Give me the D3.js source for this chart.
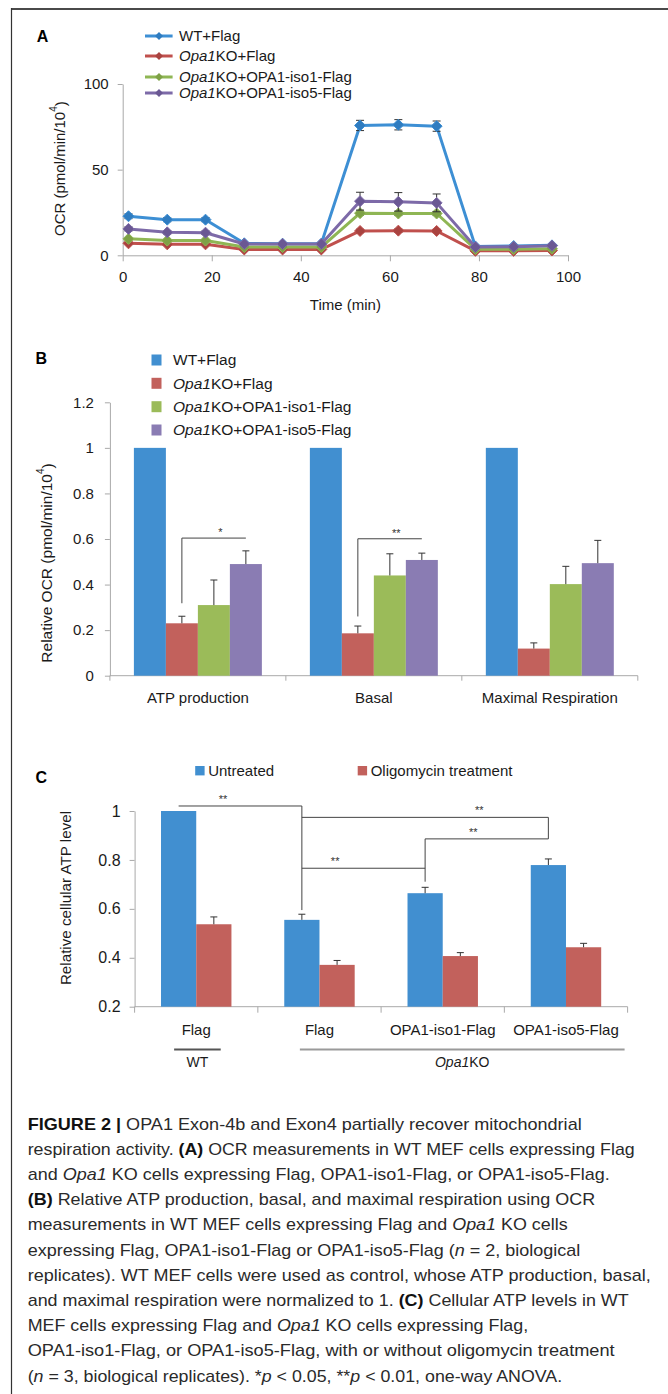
<!DOCTYPE html>
<html><head><meta charset="utf-8">
<script src="https://cdn.jsdelivr.net/npm/d3@7"></script>
<style>
body{margin:0;background:#fff}
svg{display:block}
text{font-family:"Liberation Sans",Arial,Helvetica,sans-serif;fill:#1a1a1a}
</style>
</head><body>
<svg id="fig" width="668" height="1394"></svg>
<script>
// ---------------- DATA ----------------
// Panel A: OCR time course
const timeA = [1.3, 10, 18.6, 27.3, 35.9, 44.6, 53.3, 61.9, 70.5, 79.2, 87.8, 96.4];
const seriesA = ["WT+Flag", "Opa1KO+Flag", "Opa1KO+OPA1-iso1-Flag", "Opa1KO+OPA1-iso5-Flag"];
const ocrWT   = [22.8, 20.8, 20.8, 7.0, 6.8, 6.8, 75.8, 76.2, 75.4, 5.2, 5.4, 5.8];
const ocrKO   = [7.0, 6.4, 6.4, 3.4, 3.4, 3.4, 14.2, 14.4, 14.2, 2.6, 2.6, 2.8];
const ocrIso1 = [9.6, 8.6, 8.6, 4.8, 4.8, 4.8, 24.6, 24.4, 24.4, 3.6, 3.6, 3.8];
const ocrIso5 = [15.4, 13.4, 13.2, 6.6, 6.6, 6.6, 31.6, 31.2, 30.6, 4.8, 5.0, 5.6];
const errWT   = [1.4, 1.2, 1.2, 0.8, 0.8, 0.8, 3.0, 3.0, 3.0, 0.5, 0.5, 0.5];
const errKO   = [0.6, 0.5, 0.5, 0.4, 0.4, 0.4, 1.0, 1.0, 1.0, 0.3, 0.3, 0.3];
const errIso1 = [0.8, 0.6, 0.6, 0.4, 0.4, 0.4, 1.2, 1.2, 1.2, 0.3, 0.3, 0.3];
const errIso5 = [1.2, 1.0, 1.0, 0.6, 0.6, 0.6, 5.2, 5.4, 5.2, 0.4, 0.4, 0.4];
const ticksAx = [0, 20, 40, 60, 80, 100];
const ticksAy = [0, 50, 100];

// Panel B: relative OCR
const catsB = ["ATP production", "Basal", "Maximal Respiration"];
const relWT   = [1, 1, 1];
const relKO   = [0.23, 0.186, 0.119];
const relIso1 = [0.31, 0.44, 0.402];
const relIso5 = [0.49, 0.508, 0.494];
const errRelKO   = [0.031, 0.032, 0.025];
const errRelIso1 = [0.11, 0.095, 0.078];
const errRelIso5 = [0.058, 0.03, 0.1];
const ticksBy = [0, 0.2, 0.4, 0.6, 0.8, 1, 1.2];
// significance: group index, from series, to series, bracket level, left drop level, label
const sigB = [
  {group: 0, from: 1, to: 3, level: 0.604, drop: 0.318, label: "*"},
  {group: 1, from: 1, to: 3, level: 0.601, drop: 0.26, label: "**"}
];

// Panel C: relative cellular ATP
const catsC = ["Flag", "Flag", "OPA1-iso1-Flag", "OPA1-iso5-Flag"];
const seriesC = ["Untreated", "Oligomycin treatment"];
const atpUntreated = [1.0, 0.555, 0.664, 0.779];
const atpOligo     = [0.537, 0.371, 0.407, 0.443];
const errUntreated = [0, 0.023, 0.024, 0.025];
const errOligo     = [0.03, 0.018, 0.014, 0.016];
const ticksCy = [0.2, 0.4, 0.6, 0.8, 1];
// brackets between untreated bars: from group, to group, level, drops, star fraction
const sigC = [
  {from: 0, to: 1, level: 1.0205, dropL: null,  dropR: 0.595, frac: 0.36, label: "**"},
  {from: 1, to: 3, level: 0.974,  dropL: null,  dropR: 0.886, frac: 0.72, label: "**"},
  {from: 2, to: 3, level: 0.886,  dropL: 0.711, dropR: null,  frac: 0.39, label: "**"},
  {from: 1, to: 2, level: 0.766,  dropL: null,  dropR: null,  frac: 0.27, label: "**"}
];
const groupsC = [{label: "WT", from: 0, to: 0, italic: false}, {label: "Opa1KO", from: 1, to: 3, italic: true}];

// Caption
const caption = [
  [["FIGURE 2 | ", "b"], ["OPA1 Exon-4b and Exon4 partially recover mitochondrial", ""]],
  [["respiration activity. ", ""], ["(A)", "b"], [" OCR measurements in WT MEF cells expressing Flag", ""]],
  [["and ", ""], ["Opa1", "i"], [" KO cells expressing Flag, OPA1-iso1-Flag, or OPA1-iso5-Flag.", ""]],
  [["(B)", "b"], [" Relative ATP production, basal, and maximal respiration using OCR", ""]],
  [["measurements in WT MEF cells expressing Flag and ", ""], ["Opa1", "i"], [" KO cells", ""]],
  [["expressing Flag, OPA1-iso1-Flag or OPA1-iso5-Flag (", ""], ["n", "i"], [" = 2, biological", ""]],
  [["replicates). WT MEF cells were used as control, whose ATP production, basal,", ""]],
  [["and maximal respiration were normalized to 1. ", ""], ["(C)", "b"], [" Cellular ATP levels in WT", ""]],
  [["MEF cells expressing Flag and ", ""], ["Opa1", "i"], [" KO cells expressing Flag,", ""]],
  [["OPA1-iso1-Flag, or OPA1-iso5-Flag, with or without oligomycin treatment", ""]],
  [["(", ""], ["n", "i"], [" = 3, biological replicates). *", ""], ["p", "i"], [" < 0.05, **", ""], ["p", "i"], [" < 0.01, one-way ANOVA.", ""]]
];

// ---------------- DRAWING ----------------
const svg = d3.select("#fig");
const AXIS = "#a9a9a9";
const colA = ["#3d8fd4", "#c0504d", "#8fb654", "#7d6aa8"];
const colAdark = ["#2f7cc0", "#a94340", "#7ea146", "#6a5893"];
const colB = ["#418fd0", "#c2615c", "#9bbb59", "#8a7cb3"];
const colC = ["#418fd0", "#c2615c"];

// frame
svg.append("line").attr("x1", 11).attr("x2", 668).attr("y1", 9).attr("y2", 9).attr("stroke", "#4a4a4a").attr("stroke-width", 2);
svg.append("line").attr("x1", 11.5).attr("x2", 11.5).attr("y1", 8).attr("y2", 1394).attr("stroke", "#333").attr("stroke-width", 1.2);

function panelLabel(t, x, y) {
  svg.append("text").attr("x", x).attr("y", y).attr("text-anchor", "middle")
    .attr("font-size", 16).attr("font-weight", "bold").style("fill", "#000").text(t);
}
function richLabel(g, label, x, y, size) {
  const t = g.append("text").attr("x", x).attr("y", y).attr("font-size", size).attr("dy", "0.35em");
  if (label.startsWith("Opa1")) {
    t.append("tspan").attr("font-style", "italic").text("Opa1");
    t.append("tspan").text(label.slice(4));
  } else t.text(label);
  return t;
}
function styleAxis(g) {
  g.selectAll(".domain").attr("stroke", AXIS);
  g.selectAll(".tick line").attr("stroke", AXIS);
  g.selectAll("text").attr("font-size", 15).style("fill", "#1a1a1a").attr("font-family", null);
}

// ===== Panel A =====
panelLabel("A", 42.6, 42);
const xA = d3.scaleLinear().domain([0, 100]).range([122.7, 568]);
const yA = d3.scaleLinear().domain([0, 100]).range([255.3, 84]);
const gA = svg.append("g");
gA.append("g").attr("transform", `translate(0,${yA(0)})`)
  .call(d3.axisBottom(xA).tickValues(ticksAx).tickSize(6).tickSizeOuter(0))
  .call(styleAxis).call(g => g.selectAll("text").attr("y", 27).attr("dy", 0));
gA.append("g").attr("transform", `translate(${xA(0)},0)`)
  .call(d3.axisLeft(yA).tickValues(ticksAy).tickSize(5).tickSizeOuter(0).tickPadding(9))
  .call(styleAxis);
gA.append("text").attr("x", (xA(0) + xA(100)) / 2).attr("y", 310).attr("text-anchor", "middle").attr("font-size", 15).text("Time (min)");
const yTitleA = gA.append("text").attr("transform", `translate(60,${(yA(0) + yA(100)) / 2 - 1}) rotate(-90)`)
  .attr("text-anchor", "middle").attr("font-size", 15).attr("dy", "0.35em");
yTitleA.append("tspan").text("OCR (pmol/min/10");
yTitleA.append("tspan").attr("font-size", 10).attr("dy", "-0.8em").text("4");
yTitleA.append("tspan").attr("dy", "0.55em").text(")");

const valsA = [ocrWT, ocrKO, ocrIso1, ocrIso5];
const errsA = [errWT, errKO, errIso1, errIso5];
const diamond = r => `M0,${-r}L${r},0L0,${r}L${-r},0Z`;
const lineA = d3.line().x((d, i) => xA(timeA[i])).y(d => yA(d));
valsA.forEach((vals, s) => {
  const g = gA.append("g");
  g.append("path").datum(vals).attr("d", lineA).attr("fill", "none").attr("stroke", colA[s]).attr("stroke-width", 3).attr("stroke-linejoin", "round");
  vals.forEach((v, i) => {
    const e = errsA[s][i], x = xA(timeA[i]);
    if (e > 0.9) {
      g.append("line").attr("x1", x).attr("x2", x).attr("y1", yA(v - e)).attr("y2", yA(v + e)).attr("stroke", "#333").attr("stroke-width", 1);
      [v - e, v + e].forEach(w => g.append("line").attr("x1", x - 4).attr("x2", x + 4).attr("y1", yA(w)).attr("y2", yA(w)).attr("stroke", "#333").attr("stroke-width", 1));
    }
    g.append("path").attr("d", diamond(5.5)).attr("transform", `translate(${x},${yA(v)})`).attr("fill", colAdark[s]).attr("stroke", colA[s]).attr("stroke-width", 1);
  });
});
// legend A
const legAy = [36, 56, 77, 93];
seriesA.forEach((s, i) => {
  gA.append("line").attr("x1", 145).attr("x2", 172.6).attr("y1", legAy[i]).attr("y2", legAy[i]).attr("stroke", colA[i]).attr("stroke-width", 3);
  gA.append("path").attr("d", diamond(4)).attr("transform", `translate(159,${legAy[i]})`).attr("fill", colAdark[i]);
  richLabel(gA, s, 179, legAy[i], 15);
});

// ===== Panel B =====
panelLabel("B", 41.3, 364);
const xB = d3.scaleBand().domain(catsB).range([109.9, 637.8]).padding(0);
const subB = d3.scaleBand().domain(d3.range(4)).range([0, xB.bandwidth()]).paddingInner(0).paddingOuter(0.75);
const yB = d3.scaleLinear().domain([0, 1.2]).range([675.7, 402.3]);
const gB = svg.append("g");
gB.append("g").attr("transform", `translate(${xB.range()[0]},0)`)
  .call(d3.axisLeft(yB).tickValues(ticksBy).tickFormat(d3.format("~g")).tickSize(5).tickSizeOuter(0).tickPadding(11))
  .call(styleAxis);
gB.append("line").attr("x1", xB.range()[0]).attr("x2", xB.range()[1]).attr("y1", yB(0)).attr("y2", yB(0)).attr("stroke", AXIS);
catsB.map(c => xB(c)).concat([xB.range()[1]]).forEach(x =>
  gB.append("line").attr("x1", x).attr("x2", x).attr("y1", yB(0)).attr("y2", yB(0) + 5).attr("stroke", AXIS));
catsB.forEach(c => gB.append("text").attr("x", xB(c) + xB.bandwidth() / 2).attr("y", 703).attr("text-anchor", "middle").attr("font-size", 15).text(c));
const valsB = [relWT, relKO, relIso1, relIso5];
const errsB = [null, errRelKO, errRelIso1, errRelIso5];
catsB.forEach((c, gi) => {
  valsB.forEach((vals, s) => {
    const x = xB(c) + subB(s);
    gB.append("rect").attr("x", x).attr("y", yB(vals[gi])).attr("width", subB.bandwidth()).attr("height", yB(0) - yB(vals[gi])).attr("fill", colB[s]);
    if (errsB[s]) {
      const cx = x + subB.bandwidth() / 2, top = yB(vals[gi] + errsB[s][gi]);
      gB.append("line").attr("x1", cx).attr("x2", cx).attr("y1", yB(vals[gi])).attr("y2", top).attr("stroke", "#333");
      gB.append("line").attr("x1", cx - 3.5).attr("x2", cx + 3.5).attr("y1", top).attr("y2", top).attr("stroke", "#333");
    }
  });
});
sigB.forEach(d => {
  const c = catsB[d.group];
  const x1 = xB(c) + subB(d.from) + subB.bandwidth() / 2, x2 = xB(c) + subB(d.to) + subB.bandwidth() / 2;
  gB.append("path").attr("d", `M${x1},${yB(d.drop)}V${yB(d.level)}H${x2}`).attr("fill", "none").attr("stroke", "#444").attr("stroke-width", 1);
  gB.append("text").attr("x", x1 + (x2 - x1) * 0.6).attr("y", yB(d.level) - 2).attr("text-anchor", "middle").attr("font-size", 11).style("fill", "#333").text(d.label);
});
const yTitleB = gB.append("text").attr("transform", `translate(47,563) rotate(-90)`).attr("text-anchor", "middle").attr("font-size", 15.5).attr("dy", "0.35em");
yTitleB.append("tspan").text("Relative OCR (pmol/min/10");
yTitleB.append("tspan").attr("font-size", 10).attr("dy", "-0.8em").text("4");
yTitleB.append("tspan").attr("dy", "0.55em").text(")");
const legBy = [360, 383.3, 406.7, 430];
seriesA.forEach((s, i) => {
  gB.append("rect").attr("x", 151.5).attr("y", legBy[i] - 5.5).attr("width", 10).attr("height", 11).attr("fill", colB[i]);
  richLabel(gB, s, 173, legBy[i], 15.5);
});

// ===== Panel C =====
panelLabel("C", 41.3, 783);
const idxC = d3.range(catsC.length);
const xC = d3.scaleBand().domain(idxC).range([134.6, 627.6]).padding(0);
const subC = d3.scaleBand().domain([0, 1]).range([0, xC.bandwidth()]).paddingInner(0).paddingOuter(0.75);
const yC = d3.scaleLinear().domain([0.2, 1]).range([1006.7, 811]);
const gC = svg.append("g");
gC.append("g").attr("transform", `translate(${xC.range()[0]},0)`)
  .call(d3.axisLeft(yC).tickValues(ticksCy).tickFormat(d3.format("~g")).tickSize(5).tickSizeOuter(0).tickPadding(9))
  .call(styleAxis).call(g => g.selectAll("text").attr("font-size", 16));
gC.append("line").attr("x1", xC.range()[0]).attr("x2", xC.range()[1]).attr("y1", yC(0.2)).attr("y2", yC(0.2)).attr("stroke", AXIS);
idxC.map(i => xC(i)).concat([xC.range()[1]]).forEach(x =>
  gC.append("line").attr("x1", x).attr("x2", x).attr("y1", yC(0.2)).attr("y2", yC(0.2) + 6).attr("stroke", AXIS));
idxC.forEach(i => gC.append("text").attr("x", xC(i) + xC.bandwidth() / 2).attr("y", 1035).attr("text-anchor", "middle").attr("font-size", 15).text(catsC[i]));
const valsC = [atpUntreated, atpOligo];
const errsC = [errUntreated, errOligo];
idxC.forEach(i => {
  valsC.forEach((vals, s) => {
    const x = xC(i) + subC(s);
    gC.append("rect").attr("x", x).attr("y", yC(vals[i])).attr("width", subC.bandwidth()).attr("height", yC(0.2) - yC(vals[i])).attr("fill", colC[s]);
    const e = errsC[s][i];
    if (e > 0) {
      const cx = x + subC.bandwidth() / 2, top = yC(vals[i] + e);
      gC.append("line").attr("x1", cx).attr("x2", cx).attr("y1", yC(vals[i])).attr("y2", top).attr("stroke", "#333");
      gC.append("line").attr("x1", cx - 3.5).attr("x2", cx + 3.5).attr("y1", top).attr("y2", top).attr("stroke", "#333");
    }
  });
});
const cxU = i => xC(i) + subC(0) + subC.bandwidth() / 2;
sigC.forEach(d => {
  const x1 = cxU(d.from), x2 = cxU(d.to), y = yC(d.level);
  let p = d.dropL != null ? `M${x1},${yC(d.dropL)}V${y}` : `M${x1},${y}`;
  p += `H${x2}`;
  if (d.dropR != null) p += `V${yC(d.dropR)}`;
  gC.append("path").attr("d", p).attr("fill", "none").attr("stroke", "#444").attr("stroke-width", 1);
  gC.append("text").attr("x", x1 + (x2 - x1) * d.frac).attr("y", y - 3).attr("text-anchor", "middle").attr("font-size", 11).style("fill", "#333").text(d.label);
});
gC.append("text").attr("transform", `translate(66,898) rotate(-90)`).attr("text-anchor", "middle").attr("font-size", 15.2).attr("dy", "0.35em").text("Relative cellular ATP level");
// legend C
const legCx = [195.2, 357.7];
seriesC.forEach((s, i) => {
  gC.append("rect").attr("x", legCx[i]).attr("y", 766).attr("width", 9.4).attr("height", 9.4).attr("fill", colC[i]);
  gC.append("text").attr("x", legCx[i] + 13).attr("y", 771).attr("dy", "0.35em").attr("font-size", 15).text(s);
});
// group lines
groupsC.forEach((g, k) => {
  const xa = k === 0 ? cxU(g.from) - 4.5 : cxU(g.from) - 2;
  const xb = k === 0 ? xC(g.to) + xC.bandwidth() / 2 + 24.5 : xC(g.to) + xC.bandwidth() - 3;
  gC.append("line").attr("x1", xa).attr("x2", xb).attr("y1", 1049.5).attr("y2", 1049.5)
    .attr("stroke", k === 0 ? "#555" : "#9a9a9a").attr("stroke-width", 2);
  const t = gC.append("text").attr("x", (xa + xb) / 2).attr("y", 1067).attr("text-anchor", "middle").attr("font-size", 14);
  if (g.italic) { t.append("tspan").attr("font-style", "italic").text("Opa1"); t.append("tspan").text("KO"); }
  else t.text(g.label);
});

// ===== Caption =====
const capWidths = [554, 607, 582, 567.5, 540, 552.5, 623, 601, 500.5, 587, 534.5];
const gCap = svg.append("g");
caption.forEach((line, i) => {
  const t = gCap.append("text").attr("x", 27.7).attr("y", 1129.5 + i * 25.2).attr("font-size", 17)
    .attr("textLength", capWidths[i]).attr("lengthAdjust", "spacingAndGlyphs").style("fill", "#2a2a2a");
  line.forEach(([s, st]) => {
    const ts = t.append("tspan").text(s);
    if (st === "b") ts.attr("font-weight", "bold").style("fill", "#111");
    if (st === "i") ts.attr("font-style", "italic");
  });
});
</script>
</body></html>
